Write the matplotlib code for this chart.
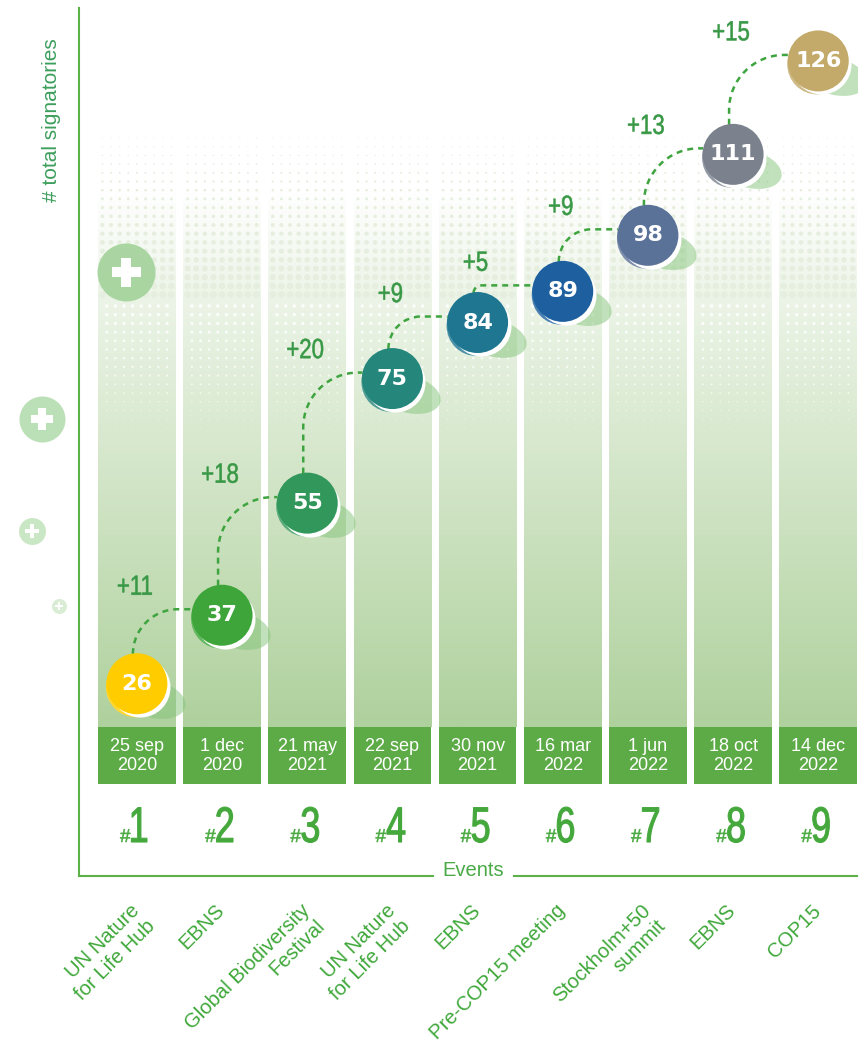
import numpy as np
import matplotlib
matplotlib.use("Agg")
import matplotlib.pyplot as plt
import matplotlib.transforms as mtrans
from matplotlib.textpath import TextPath
from matplotlib.font_manager import FontProperties
from matplotlib.patches import PathPatch, Rectangle
from matplotlib.path import Path
from matplotlib.colors import LinearSegmentedColormap, to_rgb

# ---------------- data ----------------
event_numbers = [1, 2, 3, 4, 5, 6, 7, 8, 9]
signatories = [26, 37, 55, 75, 84, 89, 98, 111, 126]
dates = ["25 sep\n2020", "1 dec\n2020", "21 may\n2021", "22 sep\n2021", "30 nov\n2021",
         "16 mar\n2022", "1 jun\n2022", "18 oct\n2022", "14 dec\n2022"]
event_names = ["UN Nature\nfor Life Hub", "EBNS", "Global Biodiversity\nFestival",
               "UN Nature\nfor Life Hub", "EBNS", "Pre-COP15 meeting",
               "Stockholm+50\nsummit", "EBNS", "COP15"]
circle_colors = ["#ffcc00", "#3da53a", "#32975a", "#25867b", "#1f7691",
                 "#1d5f9f", "#5b7298", "#7b828e", "#c3aa6a"]
increments = np.diff(signatories)

plt.rcParams["font.family"] = ["Liberation Sans", "DejaVu Sans"]

# ---------------- layout ----------------
W, H = 867, 1047
fig = plt.figure(figsize=(W / 100, H / 100), dpi=100)
AX_L, AX_R, AX_T, AX_B = 79, 857, 8, 876
ax = fig.add_axes([AX_L / W, 1 - AX_B / H, (AX_R - AX_L) / W, (AX_B - AX_T) / H])
XL = (0.3202, 9.455)
YL = (-4.87, 134.5)
UX = (XL[1] - XL[0]) / (AX_R - AX_L)   # data-x per pixel
UY = (YL[1] - YL[0]) / (AX_B - AX_T)   # data-y per pixel


def vy(py):
    return YL[1] - (py - AX_T) * UY


def vx(px):
    return XL[0] + (px - AX_L) * UX


FP = FontProperties(family="Liberation Sans")


def ctext(s, x, y, size, sx, color, ha="center", va="baseline", z=6, stroke=0.0):
    tp = TextPath((0, 0), s, size=size, prop=FP)
    ext = tp.get_extents()
    ox = {"center": -(ext.x0 + ext.x1) / 2, "left": -ext.x0, "right": -ext.x1}[ha]
    oy = {"center": -(ext.y0 + ext.y1) / 2, "baseline": 0.0}[va]
    t = (mtrans.Affine2D().translate(ox, oy).scale(sx / 72.0, 1 / 72.0)
         + fig.dpi_scale_trans + mtrans.ScaledTranslation(x, y, ax.transData))
    p = PathPatch(tp, transform=t, facecolor=color, edgecolor=color, lw=stroke,
                  joinstyle="round", zorder=z, clip_on=False)
    ax.add_artist(p)


x = np.array(event_numbers, dtype=float)
v = np.array(signatories, dtype=float)
hw = 38.8 * UX

# column gradients
cmap = LinearSegmentedColormap.from_list(
    "g", [(0.0, "#ffffff"), (0.2, "#ecf4e7"), (1.0, "#afd19d")])
grad = np.linspace(0, 1, 256).reshape(-1, 1)
for xi in x:
    ax.imshow(grad, extent=(xi - hw, xi + hw, vy(727), vy(190)), aspect="auto",
              cmap=cmap, origin="upper", interpolation="bilinear", zorder=1)
    # dot texture
    sp = 8.62
    cols = xi + (np.arange(9) - 4) * sp * UX
    rows = np.arange(138, 302, 8.7)
    gx, gy = np.meshgrid(cols, rows)
    d = 1.0 + 6.4 * ((gy - 138) / 164) ** 1.2
    ax.scatter(gx.ravel(), vy(gy).ravel(), s=(d.ravel() * 0.72) ** 2, c="#e6efdf",
               linewidths=0, zorder=2)
    rows2 = np.arange(306, 440, 8.7)
    cols2 = xi + (np.arange(8) - 3.5) * sp * UX
    gx2, gy2 = np.meshgrid(cols2, rows2)
    d2 = 0.4 + 3.2 * (1 - (gy2 - 306) / 134)
    ax.scatter(gx2.ravel(), vy(gy2).ravel(), s=(d2.ravel() * 0.72) ** 2, c="white",
               alpha=0.85, linewidths=0, zorder=2)
    # date box
    ax.add_patch(Rectangle((xi - hw, vy(784)), 2 * hw, vy(727) - vy(784),
                           facecolor="#5dab46", edgecolor="none", zorder=2))

for xi, dt in zip(x, dates):
    ax.text(xi, vy(756), dt, ha="center", va="center", color="white",
            fontsize=13, linespacing=1.12, zorder=3)

# event numbers
for xi, n in zip(x, event_numbers):
    ctext("#", xi - 6.5 * UX, vy(842), 13.5, 1.0, "#45a83c", ha="right", stroke=0.4)
    ctext(str(n), xi - 5.5 * UX, vy(842), 36, 0.72, "#45a83c", ha="left", stroke=0.8)

# event names
for xi, nm in zip(x, event_names):
    ax.text(xi - 7 * UX, vy(901), nm, rotation=45, rotation_mode="anchor", ha="right",
            va="top", multialignment="right", fontsize=14.6, color="#3fa83a",
            clip_on=False, linespacing=1.18)

# connectors
r_px = 30.5
k = 0.5523
for i in range(len(v) - 1):
    x0 = x[i] - 4 * UX
    y0 = v[i] + r_px * 0.97 * UY
    dyp = 6
    x1 = x[i + 1] - np.sqrt(r_px ** 2 - dyp ** 2) * UX
    y1 = v[i + 1] + dyp * UY
    Hp = (y1 - y0) / UY
    Wp = (x1 - x0) / UX
    R = min(55, Hp, Wp)
    Rx, Ry = R * UX, R * UY
    verts = [(x0, y0), (x0, y1 - Ry), (x0, y1 - Ry + k * Ry), (x0 + Rx - k * Rx, y1),
             (x0 + Rx, y1), (x1, y1)]
    codes = [Path.MOVETO, Path.LINETO, Path.CURVE4, Path.CURVE4, Path.CURVE4, Path.LINETO]
    ax.add_patch(PathPatch(Path(verts, codes), facecolor="none", edgecolor="#3ea43f",
                           lw=1.8, linestyle=(0, (2.4, 2.0)), zorder=3))
    ctext("+%d" % increments[i], x[i] - 2 * UX, v[i + 1] + 30 * UY, 20, 0.8,
          "#389845", va="center", stroke=0.4)

# circles
ell = Path.unit_circle().transformed(mtrans.Affine2D().scale(1, 0.58).rotate_deg(-14))
ax.scatter(x + 17 * UX, v - 15 * UY, s=(64 * 0.72) ** 2, marker=ell, c="#84c47a",
           alpha=0.5, linewidths=0, zorder=4)
dark = [tuple(1 - (1 - np.array(to_rgb(c))) * 0.8) for c in circle_colors]
ax.scatter(x - 1 * UX, v - 3.5 * UY, s=(60 * 0.72) ** 2, c=dark, linewidths=0, zorder=5)
ax.scatter(x + 3 * UX, v - 3.5 * UY, s=(60 * 0.72) ** 2, c="white", linewidths=0, zorder=5.1)
ax.scatter(x, v, s=(61 * 0.72) ** 2, c=circle_colors, linewidths=0, zorder=5.2)
for xi, vi in zip(x, v):
    ax.text(xi, vi, "%d" % vi, ha="center", va="center", color="white", fontsize=16,
            fontweight="bold", family="DejaVu Sans", zorder=6)

# axes styling
ax.set_xlim(XL)
ax.set_ylim(YL)
ax.set_xticks([])
ax.set_yticks([])
for s in ["top", "right"]:
    ax.spines[s].set_visible(False)
for s in ["left", "bottom"]:
    ax.spines[s].set_color("#5cb247")
    ax.spines[s].set_linewidth(1.5)
ax.patch.set_alpha(0)
ax.text(vx(473.5), vy(876), "Events", ha="center", va="baseline", fontsize=14.5,
        color="#4aaa46", clip_on=False, zorder=4,
        bbox=dict(boxstyle="square,pad=0.45", facecolor="white", edgecolor="none"))
fig.text(51.5 / W, 1 - 120 / H, "# total signatories", rotation=90, ha="center",
         va="center", fontsize=15, color="#3c9e5c")

# decorative plus circles
deco = fig.add_axes([0, 0, 1, 1], zorder=10)
deco.set_xlim(0, W)
deco.set_ylim(H, 0)
deco.axis("off")
deco.patch.set_alpha(0)
dc_x = [126, 42, 32, 59]
dc_y = [272, 419, 531, 606]
dc_d = [58, 46, 27, 15]
dc_c = ["#a6d49e", "#b8deb2", "#c8e6c2", "#d6edd2"]
for cx, cy, dd, cc in zip(dc_x, dc_y, dc_d, dc_c):
    deco.scatter([cx], [cy], s=(dd * 0.72) ** 2, c=cc, linewidths=0, alpha=0.95)
    deco.scatter([cx], [cy], s=(dd * 0.5 * 0.72) ** 2, c="white", marker="P", linewidths=0)

fig.savefig("out.png", dpi=100, facecolor="white")
